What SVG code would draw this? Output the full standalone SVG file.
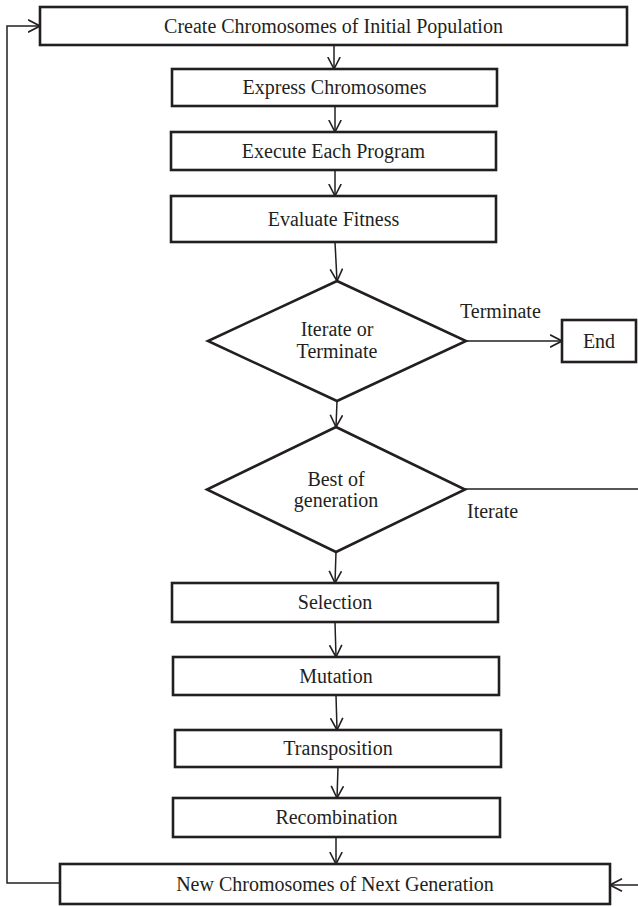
<svg xmlns="http://www.w3.org/2000/svg" width="638" height="907" viewBox="0 0 638 907">
<style>
.box{fill:#fff;stroke:#231f20;stroke-width:2.6}
.lbl{font-family:"Liberation Serif","Times New Roman",serif;font-size:20px;fill:#231f20;text-anchor:middle}
.edge{fill:none;stroke:#231f20;stroke-width:1.5}
.elbl{font-family:"Liberation Serif","Times New Roman",serif;font-size:20px;fill:#231f20}
</style>
<defs>
<marker id="ah" viewBox="0 0 13 14" refX="12.5" refY="7" markerWidth="13" markerHeight="14" markerUnits="userSpaceOnUse" orient="auto">
<path d="M0.5,0.8 L12.5,7 L0.5,13.2" fill="none" stroke="#231f20" stroke-width="1.6"/>
</marker>
</defs>
<g id="connectors">
<line class="edge" x1="334" y1="45" x2="334" y2="69" marker-end="url(#ah)"/>
<line class="edge" x1="335" y1="106" x2="335" y2="132" marker-end="url(#ah)"/>
<line class="edge" x1="335" y1="170" x2="335" y2="196" marker-end="url(#ah)"/>
<line class="edge" x1="335" y1="242" x2="337" y2="281" marker-end="url(#ah)"/>
<line class="edge" x1="466" y1="341" x2="562" y2="341" marker-end="url(#ah)"/>
<line class="edge" x1="337" y1="401" x2="336" y2="427" marker-end="url(#ah)"/>
<line class="edge" x1="336" y1="552" x2="335" y2="583" marker-end="url(#ah)"/>
<line class="edge" x1="335" y1="622" x2="336" y2="657" marker-end="url(#ah)"/>
<line class="edge" x1="336" y1="695" x2="337" y2="730" marker-end="url(#ah)"/>
<line class="edge" x1="338" y1="767" x2="337" y2="798" marker-end="url(#ah)"/>
<line class="edge" x1="336" y1="837" x2="336" y2="864" marker-end="url(#ah)"/>
<path class="edge" d="M465,489 H642 V885 H610" marker-end="url(#ah)"/>
<path class="edge" d="M60,883 H7 V26 H40" marker-end="url(#ah)"/>
<text class="elbl" x="460" y="318">Terminate</text>
<text class="elbl" x="467" y="518">Iterate</text>
</g>
<g id="n_create">
<rect class="box" x="40" y="7" width="587" height="38"/>
<text class="lbl" x="333.5" y="33">Create Chromosomes of Initial Population</text>
</g>
<g id="n_express">
<rect class="box" x="172" y="69" width="325" height="37"/>
<text class="lbl" x="334.5" y="94">Express Chromosomes</text>
</g>
<g id="n_execute">
<rect class="box" x="171" y="132" width="325" height="38"/>
<text class="lbl" x="333.5" y="158">Execute Each Program</text>
</g>
<g id="n_evaluate">
<rect class="box" x="171" y="196" width="325" height="46"/>
<text class="lbl" x="333.5" y="226">Evaluate Fitness</text>
</g>
<g id="n_iterate">
<polygon class="box" points="337,281 466,341 337,401 208,341"/>
<text class="lbl" x="337" y="336">Iterate or</text>
<text class="lbl" x="337" y="358">Terminate</text>
</g>
<g id="n_end">
<rect class="box" x="562" y="320" width="74" height="42"/>
<text class="lbl" x="599" y="348">End</text>
</g>
<g id="n_best">
<polygon class="box" points="336,427 465,489.5 336,552 207,489.5"/>
<text class="lbl" x="336" y="486">Best of</text>
<text class="lbl" x="336" y="507">generation</text>
</g>
<g id="n_selection">
<rect class="box" x="172" y="583" width="326" height="39"/>
<text class="lbl" x="335" y="609">Selection</text>
</g>
<g id="n_mutation">
<rect class="box" x="173" y="657" width="326" height="38"/>
<text class="lbl" x="336" y="683">Mutation</text>
</g>
<g id="n_transposition">
<rect class="box" x="175" y="730" width="326" height="37"/>
<text class="lbl" x="338" y="755">Transposition</text>
</g>
<g id="n_recombination">
<rect class="box" x="173" y="798" width="327" height="39"/>
<text class="lbl" x="336.5" y="824">Recombination</text>
</g>
<g id="n_new">
<rect class="box" x="60" y="864" width="550" height="40"/>
<text class="lbl" x="335" y="891">New Chromosomes of Next Generation</text>
</g>
</svg>
